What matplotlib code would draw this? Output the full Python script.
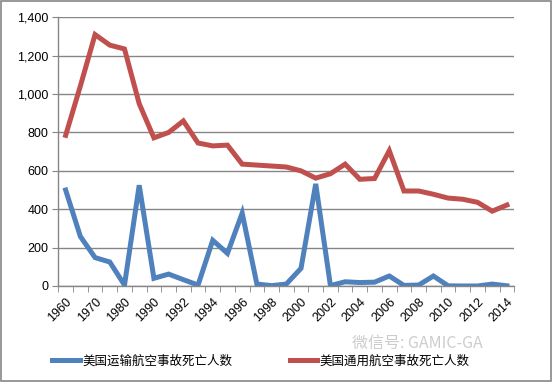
import matplotlib
matplotlib.use("Agg")
import matplotlib.pyplot as plt
from matplotlib.ticker import FuncFormatter, FixedLocator
from matplotlib.patches import Rectangle

# categories (uneven spacing in the source: 5-year steps until 1990)
years = [1960, 1965, 1970, 1975, 1980, 1985] + list(range(1990, 2015))

transport = [500, 258, 148, 125, 5, 525, 40, 62, 33, 5, 238, 170, 380, 10, 2,
             10, 92, 532, 2, 22, 18, 20, 52, 3, 5, 52, 1, 0, 0, 10, 1]
general = [785, 1042, 1310, 1255, 1235, 950, 772, 800, 860, 745, 730, 734, 635,
           630, 625, 620, 600, 562, 585, 635, 556, 560, 705, 495, 495, 478,
           458, 452, 436, 390, 422]

name_transport = "美国运输航空事故死亡人数"
name_general = "美国通用航空事故死亡人数"

blue = "#4F81BD"
red = "#C0504D"
grid_c = "#868686"

plt.rcParams['font.family'] = ['Liberation Sans', 'DejaVu Sans']

fig = plt.figure(figsize=(5.53, 3.82), dpi=100)
ax = fig.add_axes([58.3 / 553, 1 - 286 / 382, 456 / 553, (286 - 17.3) / 382])

x = list(range(len(years)))
l1, = ax.plot(x, transport, color=blue, lw=3.6, solid_joinstyle='miter', label=name_transport)
l2, = ax.plot(x, general, color=red, lw=3.6, solid_joinstyle='miter', label=name_general)

ax.set_xlim(-0.5, len(years) - 0.5)
ax.set_ylim(0, 1400)
ax.set_yticks(range(0, 1401, 200))
ax.yaxis.set_major_formatter(FuncFormatter(lambda v, p: f"{int(v):,}"))
ax.yaxis.grid(True, color=grid_c, lw=1)
ax.set_axisbelow(True)

# category labels on every other category, ticks on boundaries
ax.xaxis.set_major_locator(FixedLocator(x[::2]))
ax.set_xticklabels([str(y) for y in years[::2]], rotation=45, ha='right',
                   rotation_mode='anchor', fontsize=9)
ax.xaxis.set_minor_locator(FixedLocator([i - 0.5 for i in range(len(years) + 1)]))
ax.tick_params(axis='x', which='major', length=0, pad=7)
ax.tick_params(axis='x', which='minor', length=4, color=grid_c, direction='out')
ax.tick_params(axis='y', length=4, color=grid_c, labelsize=9, pad=3)

for s in ['top', 'right']:
    ax.spines[s].set_visible(False)
for s in ['left', 'bottom']:
    ax.spines[s].set_color(grid_c)
    ax.spines[s].set_linewidth(1)

fig.legend(handles=[l1, l2], loc='center left', bbox_to_anchor=(52 / 553, 1 - 361 / 382),
           ncol=2, frameon=False, handlelength=2.2, handletextpad=0.2,
           columnspacing=4.6, borderpad=0, borderaxespad=0,
           prop={'family': ['Noto Sans CJK SC', 'DejaVu Sans'], 'size': 9})

# watermark
fig.text(352 / 553, 1 - 343 / 382, "微信号: GAMIC-GA", color='#c4c4c4', alpha=0.85,
         fontsize=11.5, family=['Noto Sans CJK SC', 'DejaVu Sans'], va='center')

fig.patches.append(Rectangle((0.001, 0.002), 0.996, 0.995, transform=fig.transFigure,
                             fill=False, edgecolor=grid_c, lw=1.2))

fig.savefig("out.png", dpi=100)
